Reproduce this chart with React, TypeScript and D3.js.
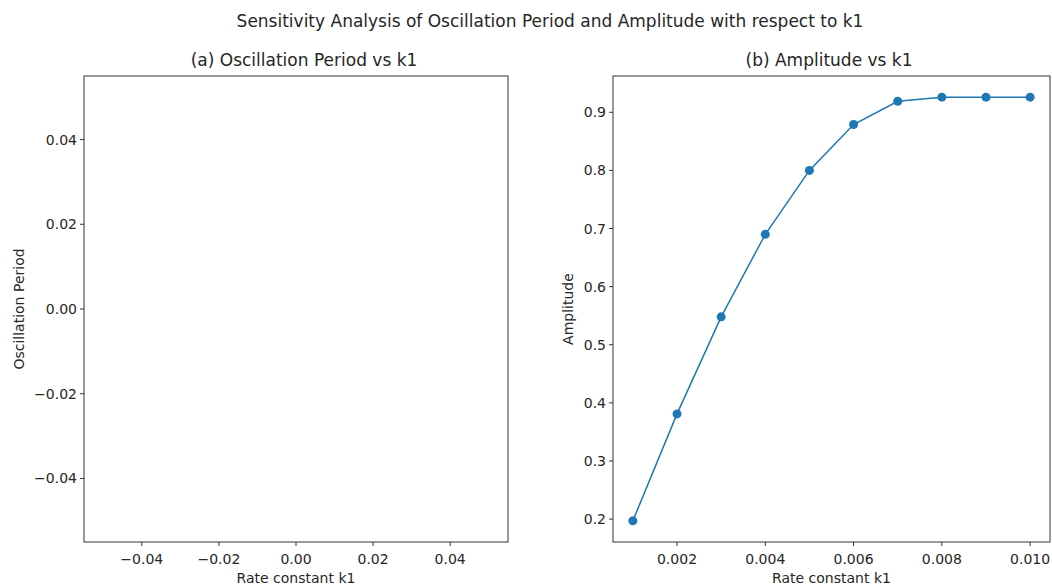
import React from "react";
import * as d3 from "d3";

const k1Values = [0.001, 0.002, 0.003, 0.004, 0.005, 0.006, 0.007, 0.008, 0.009, 0.01];
const amplitudeValues = [0.197, 0.381, 0.548, 0.69, 0.8, 0.879, 0.919, 0.926, 0.926, 0.926];
const periodValues: number[] = [];

const leftTicks = [-0.04, -0.02, 0, 0.02, 0.04];
const rightXTicks = [0.002, 0.004, 0.006, 0.008, 0.01];
const rightYTicks = [0.2, 0.3, 0.4, 0.5, 0.6, 0.7, 0.8, 0.9];

const suptitle = "Sensitivity Analysis of Oscillation Period and Amplitude with respect to k1";
const titleA = "(a) Oscillation Period vs k1";
const titleB = "(b) Amplitude vs k1";
const xLabel = "Rate constant k1";
const yLabelA = "Oscillation Period";
const yLabelB = "Amplitude";

const FONT = "DejaVu Sans, sans-serif";
const TXT = "#262626";
const BLUE = "#1f77b4";
const TICK_FS = 14;
const TITLE_FS = 17;

const fmtSigned = (d: number, p: number) => {
  const s = Math.abs(d).toFixed(p);
  return d < 0 ? "\u2212" + s : s;
};

type AxProps = {
  x0: number; x1: number; y0: number; y1: number;
  xs: d3.ScaleLinear<number, number>; ys: d3.ScaleLinear<number, number>;
  xt: number[]; yt: number[]; xp: number; yp: number;
  title: string; titleX: number; ylabel: string; ylabelX: number;
  children?: React.ReactNode;
};

function Axes({ x0, x1, y0, y1, xs, ys, xt, yt, xp, yp, title, titleX, ylabel, ylabelX, children }: AxProps) {
  const tickLen = 4;
  return (
    <g>
      {children}
      <rect x={x0} y={y0} width={x1 - x0} height={y1 - y0} fill="none" stroke="#333" strokeWidth={1} />
      {xt.map((t) => (
        <g key={"x" + t}>
          <line x1={xs(t)} x2={xs(t)} y1={y1} y2={y1 + tickLen} stroke="#333" strokeWidth={1} />
          <text x={xs(t)} y={y1 + 17} textAnchor="middle" dominantBaseline="central" fontSize={TICK_FS} fill={TXT} fontFamily={FONT}>
            {fmtSigned(t, xp)}
          </text>
        </g>
      ))}
      {yt.map((t) => (
        <g key={"y" + t}>
          <line x1={x0 - tickLen} x2={x0} y1={ys(t)} y2={ys(t)} stroke="#333" strokeWidth={1} />
          <text x={x0 - 7} y={ys(t)} textAnchor="end" dominantBaseline="central" fontSize={TICK_FS} fill={TXT} fontFamily={FONT}>
            {fmtSigned(t, yp)}
          </text>
        </g>
      ))}
      <text x={titleX} y={60} textAnchor="middle" dominantBaseline="central" fontSize={TITLE_FS} fill={TXT} fontFamily={FONT}>
        {title}
      </text>
      <text x={(x0 + x1) / 2} y={578} textAnchor="middle" dominantBaseline="central" fontSize={TICK_FS} fill={TXT} fontFamily={FONT}>
        {xLabel}
      </text>
      <text
        transform={`translate(${ylabelX},${(y0 + y1) / 2}) rotate(-90)`}
        textAnchor="middle"
        dominantBaseline="central"
        fontSize={TICK_FS}
        fill={TXT}
        fontFamily={FONT}
      >
        {ylabel}
      </text>
    </g>
  );
}

export default function App() {
  const W = 1052, H = 586;
  const top = 76, bottom = 542;

  const axL = { x0: 84, x1: 508 };
  const axR = { x0: 613, x1: 1050 };

  const xsL = d3.scaleLinear().domain([-0.055, 0.055]).range([axL.x0, axL.x1]);
  const ysL = d3.scaleLinear().domain([-0.055, 0.055]).range([bottom, top]);

  const xExt = d3.extent(k1Values) as [number, number];
  const yExt = d3.extent(amplitudeValues) as [number, number];
  const xm = (xExt[1] - xExt[0]) * 0.05;
  const ym = (yExt[1] - yExt[0]) * 0.05;
  const xsR = d3.scaleLinear().domain([xExt[0] - xm, xExt[1] + xm]).range([axR.x0, axR.x1]);
  const ysR = d3.scaleLinear().domain([yExt[0] - ym, yExt[1] + ym]).range([bottom, top]);

  const pts = k1Values.map((k, i) => [k, amplitudeValues[i]] as [number, number]);
  const line = d3.line<[number, number]>().x((d) => xsR(d[0])).y((d) => ysR(d[1]));
  const periodPts = periodValues.map((p, i) => [k1Values[i], p] as [number, number]);
  const lineL = d3.line<[number, number]>().x((d) => xsL(d[0])).y((d) => ysL(d[1]));

  return (
    <svg width={W} height={H} style={{ position: "absolute", left: 0, top: 0, background: "#fff" }}>
      <rect x={0} y={0} width={W} height={H} fill="#fff" />
      <text x={550} y={21} textAnchor="middle" dominantBaseline="central" fontSize={TITLE_FS} fill={TXT} fontFamily={FONT}>
        {suptitle}
      </text>
      <Axes x0={axL.x0} x1={axL.x1} y0={top} y1={bottom} xs={xsL} ys={ysL} xt={leftTicks} yt={leftTicks} xp={2} yp={2}
        title={titleA} titleX={304} ylabel={yLabelA} ylabelX={19}>
        {periodPts.length > 0 && <path d={lineL(periodPts) || ""} fill="none" stroke={BLUE} strokeWidth={1.5} />}
      </Axes>
      <Axes x0={axR.x0} x1={axR.x1} y0={top} y1={bottom} xs={xsR} ys={ysR} xt={rightXTicks} yt={rightYTicks} xp={3} yp={1}
        title={titleB} titleX={829} ylabel={yLabelB} ylabelX={568}>
        <path d={line(pts) || ""} fill="none" stroke={BLUE} strokeWidth={1.5} />
        {pts.map((d, i) => (
          <circle key={i} cx={xsR(d[0])} cy={ysR(d[1])} r={4.5} fill={BLUE} />
        ))}
      </Axes>
    </svg>
  );
}
